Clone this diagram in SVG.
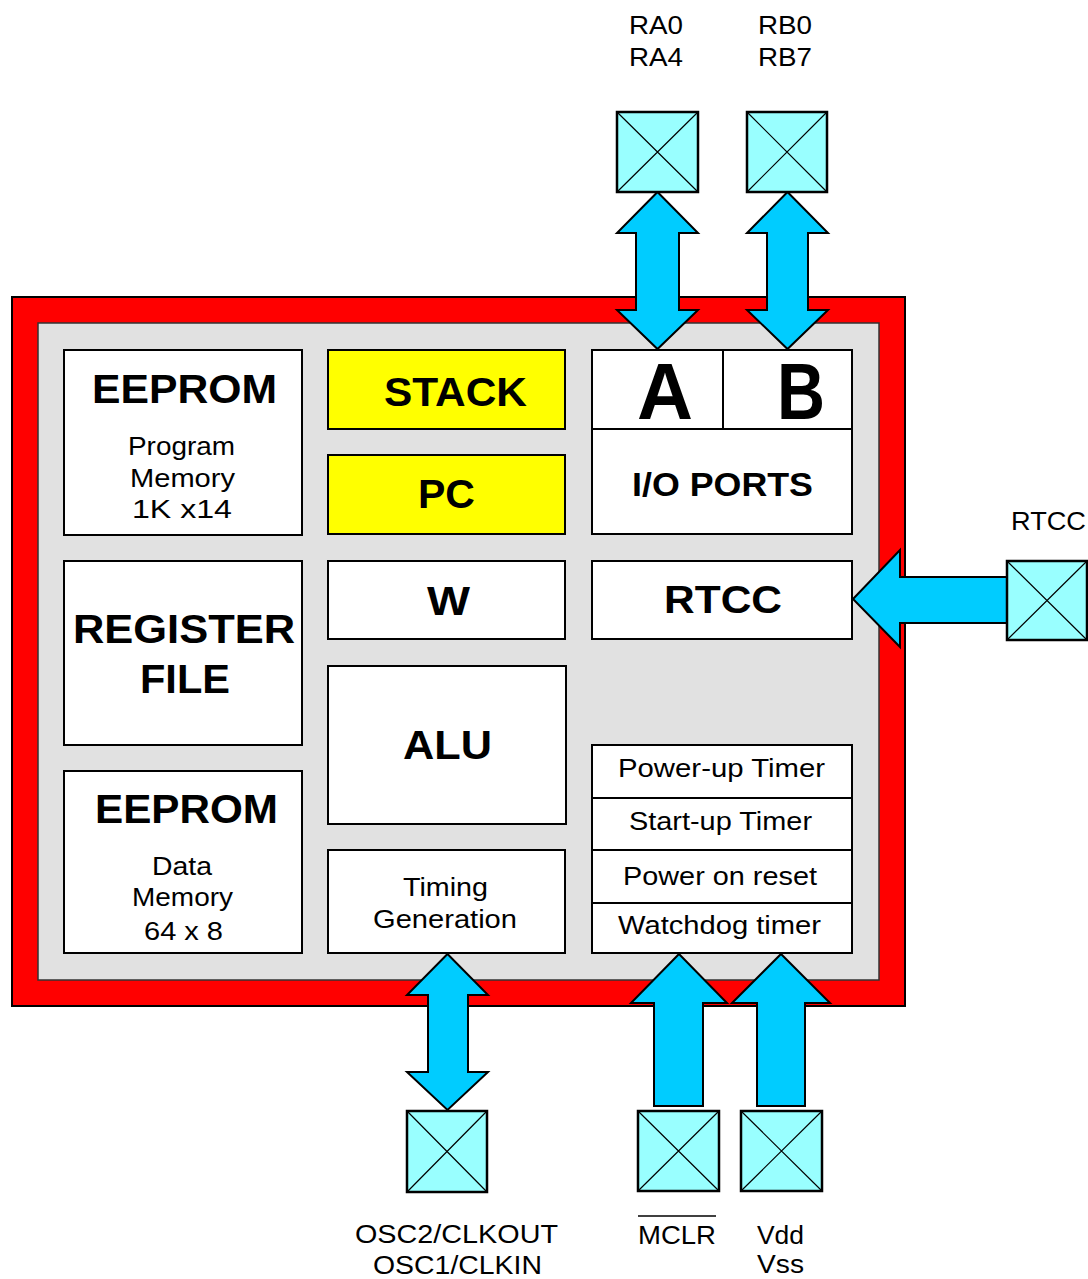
<svg xmlns="http://www.w3.org/2000/svg" width="1088" height="1279" viewBox="0 0 1088 1279">
<style>
text{font-family:"Liberation Sans",Arial,sans-serif;fill:#000}
.s{font-size:25px}
.b{font-weight:bold;font-size:40px}
.box{fill:#fff;stroke:#000;stroke-width:2}
.yel{fill:#ffff00;stroke:#000;stroke-width:2}
.pin{fill:#99ffff;stroke:#000;stroke-width:2.5}
.x{stroke:#000;stroke-width:1.2}
.arr{fill:#00ccff;stroke:#000;stroke-width:2;stroke-linejoin:miter}
</style>
<rect width="1088" height="1279" fill="#fff"/>
<g id="chip">
<rect x="12" y="297" width="893" height="709" fill="#ff0000" stroke="#000" stroke-width="2"/>
<rect x="38" y="323" width="841" height="657" fill="#e1e1e1" stroke="#333" stroke-width="1.5"/>
</g>
<g id="eeprom-program">
<rect class="box" x="64" y="350" width="238" height="185"/>
<text class="b" x="92" y="403" textLength="185" lengthAdjust="spacingAndGlyphs">EEPROM</text>
<text class="s" x="128" y="455" textLength="107" lengthAdjust="spacingAndGlyphs">Program</text>
<text class="s" x="130" y="487" textLength="105" lengthAdjust="spacingAndGlyphs">Memory</text>
<text class="s" x="132" y="518" textLength="100" lengthAdjust="spacingAndGlyphs">1K x14</text>
</g>
<g id="register-file">
<rect class="box" x="64" y="561" width="238" height="184"/>
<text class="b" x="73" y="643" textLength="222" lengthAdjust="spacingAndGlyphs">REGISTER</text>
<text class="b" x="140" y="693" textLength="90" lengthAdjust="spacingAndGlyphs">FILE</text>
</g>
<g id="eeprom-data">
<rect class="box" x="64" y="771" width="238" height="182"/>
<text class="b" x="95" y="823" textLength="183" lengthAdjust="spacingAndGlyphs">EEPROM</text>
<text class="s" x="152" y="875" textLength="60" lengthAdjust="spacingAndGlyphs">Data</text>
<text class="s" x="132" y="906" textLength="101" lengthAdjust="spacingAndGlyphs">Memory</text>
<text class="s" x="144" y="940" textLength="79" lengthAdjust="spacingAndGlyphs">64 x 8</text>
</g>
<g id="stack">
<rect class="yel" x="328" y="350" width="237" height="79"/>
<text class="b" x="384" y="406" textLength="143" lengthAdjust="spacingAndGlyphs">STACK</text>
</g>
<g id="pc">
<rect class="yel" x="328" y="455" width="237" height="79"/>
<text class="b" x="418" y="508" textLength="57" lengthAdjust="spacingAndGlyphs">PC</text>
</g>
<g id="w">
<rect class="box" x="328" y="561" width="237" height="78"/>
<text class="b" x="427" y="615" textLength="43" lengthAdjust="spacingAndGlyphs">W</text>
</g>
<g id="alu">
<rect class="box" x="328" y="666" width="238" height="158"/>
<text class="b" x="403" y="759" textLength="89" lengthAdjust="spacingAndGlyphs">ALU</text>
</g>
<g id="timing">
<rect class="box" x="328" y="850" width="237" height="103"/>
<text class="s" x="403" y="896" textLength="85" lengthAdjust="spacingAndGlyphs">Timing</text>
<text class="s" x="373" y="928" textLength="144" lengthAdjust="spacingAndGlyphs">Generation</text>
</g>
<g id="io-ports">
<rect class="box" x="592" y="350" width="260" height="184"/>
<line x1="592" y1="429" x2="852" y2="429" stroke="#000" stroke-width="2"/>
<line x1="723" y1="350" x2="723" y2="429" stroke="#000" stroke-width="2"/>
<text x="637" y="419" font-weight="bold" font-size="80" textLength="56" lengthAdjust="spacingAndGlyphs">A</text>
<text x="777" y="419" font-weight="bold" font-size="80" textLength="48" lengthAdjust="spacingAndGlyphs">B</text>
<text x="632" y="496" font-weight="bold" font-size="34" textLength="181" lengthAdjust="spacingAndGlyphs">I/O PORTS</text>
</g>
<g id="rtcc">
<rect class="box" x="592" y="561" width="260" height="78"/>
<text x="664" y="613" font-weight="bold" font-size="39" textLength="118" lengthAdjust="spacingAndGlyphs">RTCC</text>
</g>
<g id="timers">
<rect class="box" x="592" y="745" width="260" height="208"/>
<line x1="592" y1="798" x2="852" y2="798" stroke="#000" stroke-width="2"/>
<line x1="592" y1="850" x2="852" y2="850" stroke="#000" stroke-width="2"/>
<line x1="592" y1="903" x2="852" y2="903" stroke="#000" stroke-width="2"/>
<text class="s" x="618" y="777" textLength="207" lengthAdjust="spacingAndGlyphs">Power-up Timer</text>
<text class="s" x="629" y="830" textLength="183" lengthAdjust="spacingAndGlyphs">Start-up Timer</text>
<text class="s" x="623" y="885" textLength="194" lengthAdjust="spacingAndGlyphs">Power on reset</text>
<text class="s" x="618" y="934" textLength="203" lengthAdjust="spacingAndGlyphs">Watchdog timer</text>
</g>
<g id="connectors">
<polygon class="arr" points="657.5,192 698,233 679,233 679,310 698,310 657.5,349 617,310 636,310 636,233 617,233"/>
<polygon class="arr" points="787.5,192 828,233 808,233 808,310 828,310 787.5,349 747,310 767,310 767,233 747,233"/>
<polygon class="arr" points="853,599 900,550 900,577 1007,577 1007,623 900,623 900,647"/>
<polygon class="arr" points="447.5,954 488,995 468,995 468,1072 488,1072 447.5,1110 407,1072 428,1072 428,995 407,995"/>
<polygon class="arr" points="679,954 727,1003 703,1003 703,1106 654,1106 654,1003 631,1003"/>
<polygon class="arr" points="781,954 830,1003 805,1003 805,1106 757,1106 757,1003 732,1003"/>
</g>
<g id="pin-ra">
<rect class="pin" x="617" y="112" width="81" height="80"/>
<path class="x" d="M617,112L698,192M698,112L617,192"/>
<text class="s" x="629" y="34" textLength="54" lengthAdjust="spacingAndGlyphs">RA0</text>
<text class="s" x="629" y="66" textLength="54" lengthAdjust="spacingAndGlyphs">RA4</text>
</g>
<g id="pin-rb">
<rect class="pin" x="747" y="112" width="80" height="80"/>
<path class="x" d="M747,112L827,192M827,112L747,192"/>
<text class="s" x="758" y="34" textLength="54" lengthAdjust="spacingAndGlyphs">RB0</text>
<text class="s" x="758" y="66" textLength="54" lengthAdjust="spacingAndGlyphs">RB7</text>
</g>
<g id="pin-rtcc">
<rect class="pin" x="1007" y="561" width="80" height="79"/>
<path class="x" d="M1007,561L1087,640M1087,561L1007,640"/>
<text class="s" x="1011" y="530" textLength="75" lengthAdjust="spacingAndGlyphs">RTCC</text>
</g>
<g id="pin-osc">
<rect class="pin" x="407" y="1111" width="80" height="81"/>
<path class="x" d="M407,1111L487,1192M487,1111L407,1192"/>
<text class="s" x="355" y="1243" textLength="203" lengthAdjust="spacingAndGlyphs">OSC2/CLKOUT</text>
<text class="s" x="373" y="1274" textLength="169" lengthAdjust="spacingAndGlyphs">OSC1/CLKIN</text>
</g>
<g id="pin-mclr">
<rect class="pin" x="638" y="1111" width="81" height="80"/>
<path class="x" d="M638,1111L719,1191M719,1111L638,1191"/>
<line x1="638" y1="1216" x2="716" y2="1216" stroke="#000" stroke-width="1.5"/>
<text class="s" x="638" y="1244" textLength="78" lengthAdjust="spacingAndGlyphs">MCLR</text>
</g>
<g id="pin-vdd">
<rect class="pin" x="741" y="1111" width="81" height="80"/>
<path class="x" d="M741,1111L822,1191M822,1111L741,1191"/>
<text class="s" x="757" y="1244" textLength="47" lengthAdjust="spacingAndGlyphs">Vdd</text>
<text class="s" x="757" y="1273" textLength="47" lengthAdjust="spacingAndGlyphs">Vss</text>
</g>
</svg>
